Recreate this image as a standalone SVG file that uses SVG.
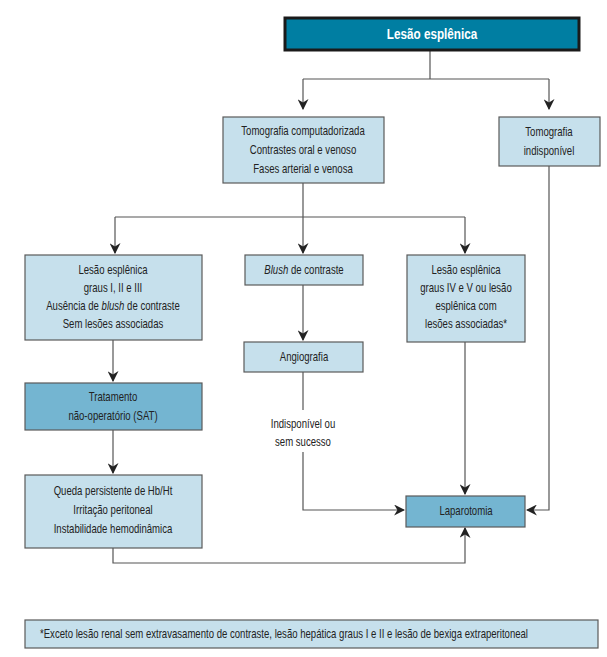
<svg xmlns="http://www.w3.org/2000/svg" width="607" height="657" viewBox="0 0 607 657">
<defs>
<marker id="ah" viewBox="0 0 10 10" refX="9" refY="5" markerWidth="11" markerHeight="11" markerUnits="userSpaceOnUse" orient="auto">
<path d="M0,0 L10,5 L0,10 L3,5 Z" fill="#222"/>
</marker>
<style>
.lb{fill:#c6e0ec;stroke:#5a5a5a;stroke-width:1.2}
.db{fill:#74b5d1;stroke:#5a5a5a;stroke-width:1.2}
text{font-family:"Liberation Sans",Arial,sans-serif;font-size:12.6px;fill:#222;text-anchor:middle}
.c{fill:none;stroke:#555;stroke-width:1.2}
.ca{fill:none;stroke:#555;stroke-width:1.2;marker-end:url(#ah)}
</style>
</defs>
<rect width="607" height="657" fill="#fff"/>
<g id="connectors">
<path class="c" d="M430,51 V79 M303,79 H549"/>
<path class="ca" d="M303,79 V109"/>
<path class="ca" d="M549,79 V109"/>
<path class="c" d="M303,183 V217 M115,217 H465"/>
<path class="ca" d="M115,217 V253"/>
<path class="ca" d="M303,217 V253"/>
<path class="ca" d="M465,217 V253"/>
<path class="ca" d="M303,285 V340"/>
<path class="ca" d="M113,340 V381"/>
<path class="ca" d="M113,430 V473"/>
<path class="c" d="M303,372 V410"/>
<path class="ca" d="M303,452 V510 H404"/>
<path class="ca" d="M465,342 V494"/>
<path class="ca" d="M549,166 V510 H527"/>
<path class="ca" d="M113,548 V563 H465 V528"/>
</g>
<g id="n-lesao">
<rect x="285" y="18" width="294" height="32" fill="#007ea2" stroke="#1a1a1a" stroke-width="3"/>
<text transform="translate(432,39) scale(.78,1)" style="font-size:15px;font-weight:bold;fill:#fff">Lesão esplênica</text>
</g>
<g id="n-tc">
<rect class="lb" x="223" y="117" width="161" height="66"/>
<text transform="translate(303,135) scale(.76,1)">Tomografia  computadorizada</text>
<text transform="translate(303,154) scale(.76,1)">Contrastes oral e venoso</text>
<text transform="translate(303,173) scale(.76,1)">Fases arterial e venosa</text>
</g>
<g id="n-tind">
<rect class="lb" x="499" y="117" width="101" height="49"/>
<text transform="translate(549,136) scale(.76,1)">Tomografia</text>
<text transform="translate(549,155) scale(.76,1)">indisponível</text>
</g>
<g id="n-l123">
<rect class="lb" x="25" y="255" width="177" height="85"/>
<text transform="translate(113,274) scale(.76,1)">Lesão esplênica</text>
<text transform="translate(113,292) scale(.76,1)">graus I, II e III</text>
<text transform="translate(113,310) scale(.76,1)">Ausência de <tspan font-style="italic">blush</tspan> de contraste</text>
<text transform="translate(113,328) scale(.76,1)">Sem lesões associadas</text>
</g>
<g id="n-blush">
<rect class="lb" x="245" y="255" width="118" height="30"/>
<text transform="translate(304,274) scale(.76,1)"><tspan font-style="italic">Blush</tspan> de contraste</text>
</g>
<g id="n-l45">
<rect class="lb" x="407" y="255" width="118" height="87"/>
<text transform="translate(466,274) scale(.76,1)">Lesão esplênica</text>
<text transform="translate(466,292) scale(.76,1)">graus IV e V ou lesão</text>
<text transform="translate(466,310) scale(.76,1)">esplênica com</text>
<text transform="translate(466,328) scale(.76,1)">lesões associadas*</text>
</g>
<g id="n-angio">
<rect class="lb" x="244" y="342" width="119" height="30"/>
<text transform="translate(304,361) scale(.76,1)">Angiografia</text>
</g>
<g id="n-label">
<text transform="translate(303,428) scale(.76,1)">Indisponível ou</text>
<text transform="translate(303,446) scale(.76,1)">sem sucesso</text>
</g>
<g id="n-trat">
<rect class="db" x="25" y="383" width="177" height="47"/>
<text transform="translate(113,401) scale(.76,1)">Tratamento</text>
<text transform="translate(113,420) scale(.76,1)">não-operatório (SAT)</text>
</g>
<g id="n-queda">
<rect class="lb" x="25" y="475" width="177" height="73"/>
<text transform="translate(113,495) scale(.76,1)">Queda persistente de Hb/Ht</text>
<text transform="translate(113,514) scale(.76,1)">Irritação peritoneal</text>
<text transform="translate(113,533) scale(.76,1)">Instabilidade hemodinâmica</text>
</g>
<g id="n-lap">
<rect class="db" x="406" y="496" width="119" height="31"/>
<text transform="translate(466,515) scale(.76,1)">Laparotomia</text>
</g>
<g id="n-foot">
<rect class="lb" x="25" y="620" width="573" height="28"/>
<text transform="translate(40,638) scale(.76,1)" style="text-anchor:start">*Exceto lesão renal sem extravasamento de contraste, lesão hepática graus I e II e lesão de bexiga extraperitoneal</text>
</g>
</svg>
